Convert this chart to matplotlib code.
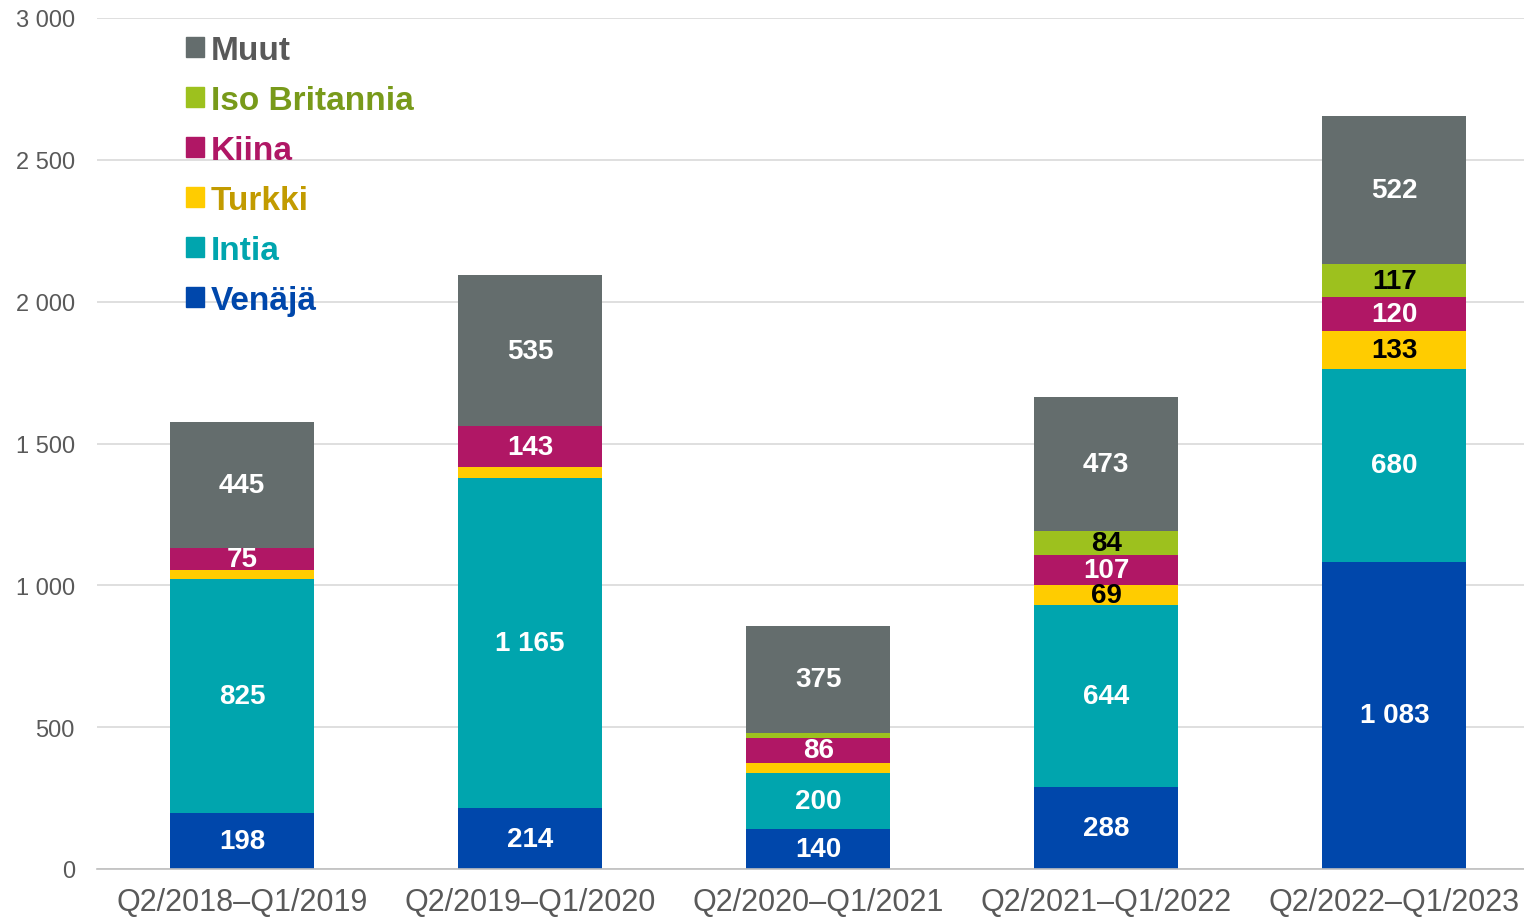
import matplotlib.pyplot as plt
from matplotlib.patches import Patch
import numpy as np

plt.rcParams['font.family'] = ['Liberation Sans', 'DejaVu Sans']

periods = ['Q2/2018–Q1/2019', 'Q2/2019–Q1/2020', 'Q2/2020–Q1/2021',
           'Q2/2021–Q1/2022', 'Q2/2022–Q1/2023']
venaja = [198, 214, 140, 288, 1083]
intia = [825, 1165, 200, 644, 680]
turkki = [32, 38, 35, 69, 133]
kiina = [75, 143, 86, 107, 120]
iso_britannia = [0, 0, 20, 84, 117]
muut = [445, 535, 375, 473, 522]

series = [
    ('Venäjä', venaja, '#0047AB', '#0047AB', 'white'),
    ('Intia', intia, '#00A5AE', '#00A5AE', 'white'),
    ('Turkki', turkki, '#FFCC00', '#C29B00', 'black'),
    ('Kiina', kiina, '#B01765', '#B01765', 'white'),
    ('Iso Britannia', iso_britannia, '#9DC11E', '#789A1A', 'black'),
    ('Muut', muut, '#646D6D', '#595959', 'white'),
]

def fmt(v):
    return '{:,}'.format(v).replace(',', ' ')

fig = plt.figure(figsize=(15.24, 9.2), dpi=100)
ax = fig.add_axes([97 / 1524, 50 / 920, 1 - 97 / 1524, 851 / 920])

x = np.arange(len(periods))
bottom = np.zeros(len(periods))
for name, vals, col, tcol, lcol in series:
    vals = np.array(vals, dtype=float)
    ax.bar(x, vals, 0.5, bottom=bottom, color=col, zorder=2)
    for xi, b, v in zip(x, bottom, vals):
        if v >= 60:
            ax.text(xi, b + v / 2, fmt(int(v)), ha='center', va='center',
                    color=lcol, fontsize=20, fontweight='bold', zorder=3)
    bottom += vals

ax.set_ylim(0, 3000)
ax.set_xlim(-0.503, 4.45)
ax.set_yticks(range(0, 3001, 500))
ax.set_yticklabels([fmt(v) for v in range(0, 3001, 500)])
ax.set_xticks(x)
ax.set_xticklabels(periods)
ax.tick_params(axis='both', length=0, labelcolor='#595959')
ax.tick_params(axis='y', labelsize=17, pad=16)
ax.tick_params(axis='x', labelsize=22, pad=13)
ax.grid(axis='y', color='#D9D9D9', linewidth=1.2, zorder=0)
for s in ['left', 'right', 'top']:
    ax.spines[s].set_visible(False)
ax.spines['bottom'].set_color('#BFBFBF')
ax.spines['bottom'].set_linewidth(1.2)

handles = [Patch(color=c) for _, _, c, _, _ in series][::-1]
labels = [n for n, _, _, _, _ in series][::-1]
tcols = [t for _, _, _, t, _ in series][::-1]
leg = ax.legend(handles, labels, loc='upper left', bbox_to_anchor=(0.041, 1.015),
                frameon=False, handlelength=0.55, handleheight=0.55,
                handletextpad=0.2, labelspacing=0.57,
                prop={'size': 24, 'weight': 'bold'})
for t, c in zip(leg.get_texts(), tcols):
    t.set_color(c)

fig.savefig('out.png', dpi=100)
